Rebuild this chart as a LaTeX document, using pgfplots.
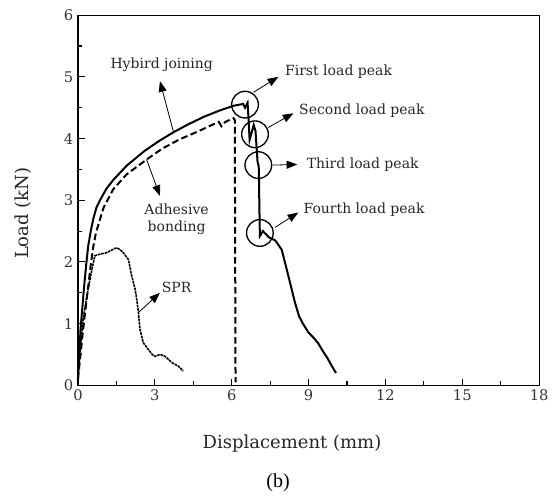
\documentclass[border=0pt]{standalone}
\usepackage{pgfplots}
\pgfplotsset{compat=1.18}
\usetikzlibrary{arrows.meta}
\usepackage{fontspec}
\setmainfont{DejaVu Serif}
\newfontfamily\timesfont{Liberation Serif}

\begin{document}
\begin{tikzpicture}[>={Triangle[length=8pt,width=6pt]}]
\begin{axis}[
  scale only axis,width=345.75pt,height=277.5pt,
  xmin=0,xmax=18,ymin=0,ymax=6,
  xtick={0,3,...,18},ytick={0,1,...,6},
  minor x tick num=1,minor y tick num=1,
  tick pos=left,tick align=inside,
  major tick length=5pt,minor tick length=3pt,
  axis line style={line width=1pt},
  every tick/.style={black,line width=0.8pt},
  /pgf/number format/assume math mode=true,
  ticklabel style={font=\fontsize{11}{13}\selectfont,text=black!80},
  xlabel={Displacement (mm)},ylabel={Load (kN)},
  label style={font=\fontsize{13.5}{15}\selectfont,text=black!85},
  xlabel style={at={(axis description cs:0.464,-0.157)},anchor=center},
  ylabel style={at={(axis description cs:-0.119,0.465)},anchor=center},
  clip=false]

% Hybird joining
\addplot[black,line width=1.5pt] coordinates {
(0,0.1) (0.05,0.5) (0.1,0.9) (0.17,1.25) (0.23,1.55) (0.32,1.95) (0.4,2.26)
(0.5,2.5) (0.6,2.7) (0.72,2.88) (0.86,3.0) (1.1,3.18) (1.38,3.33) (1.9,3.56) (2.6,3.8)
(3.2,3.97) (3.72,4.1) (4.3,4.23) (4.9,4.35) (5.5,4.45) (6.06,4.53) (6.3,4.55)
(6.45,4.56) (6.52,4.5) (6.62,4.58) (6.66,4.3) (6.70,3.98) (6.86,4.22) (6.93,4.12)
(7.01,3.62) (7.05,3.56) (7.06,3.5) (7.08,2.9) (7.1,2.42) (7.22,2.5) (7.45,2.4)
(7.7,2.35) (7.95,2.2) (8.08,1.99) (8.28,1.66) (8.47,1.34) (8.63,1.12) (8.78,1.0)
(8.99,0.86) (9.2,0.77) (9.38,0.68) (9.55,0.56) (9.71,0.46) (9.9,0.32) (10.07,0.2)};

% Adhesive bonding
\addplot[black,line width=1.5pt,dash pattern=on 5pt off 2.5pt] coordinates {
(0,0.1) (0.1,0.5) (0.2,0.9) (0.3,1.25) (0.4,1.6) (0.5,1.95) (0.6,2.25) (0.7,2.47)
(0.86,2.69) (1.0,2.88) (1.38,3.18) (1.9,3.42) (2.68,3.66) (3.3,3.84) (3.98,3.99)
(4.6,4.1) (5.28,4.23) (5.5,4.27) (5.6,4.2) (5.75,4.27) (6.07,4.33) (6.12,4.3)
(6.13,3.0) (6.15,0.05)};

% SPR
\addplot[black,line width=1.2pt,dash pattern=on 2pt off 0.6pt] coordinates {
(0,0.15) (0.1,0.6) (0.2,1.07) (0.33,1.4) (0.47,1.72) (0.58,1.95) (0.66,2.1)
(0.8,2.12) (1.12,2.15) (1.35,2.2) (1.51,2.23) (1.65,2.2) (1.77,2.15) (1.97,2.04)
(2.1,1.77) (2.23,1.56) (2.3,1.38) (2.36,1.18) (2.42,0.91) (2.55,0.69) (2.75,0.58)
(2.9,0.5) (3.0,0.47) (3.2,0.5) (3.35,0.48) (3.46,0.45) (3.66,0.37) (3.92,0.31)
(4.11,0.23)};

% peak circles
\draw[line width=1pt] (axis cs:6.52,4.55) circle[radius=10pt];
\draw[line width=1pt] (axis cs:6.91,4.07) circle[radius=10pt];
\draw[line width=1pt] (axis cs:7.04,3.57) circle[radius=10pt];
\draw[line width=1pt] (axis cs:7.10,2.47) circle[radius=10pt];

% annotations
\begin{scope}[every node/.style={font=\fontsize{10.5}{13}\selectfont,text=black!85}]
\draw[->,line width=0.6pt] (axis cs:3.72,4.12) -- (axis cs:3.2,4.93);
\node at (axis cs:3.27,5.19) {Hybird joining};
\draw[->,line width=0.6pt] (axis cs:2.68,3.66) -- (axis cs:3.2,3.07);
\node[align=center] at (axis cs:3.85,2.69) {Adhesive\\bonding};
\draw[->,line width=0.6pt] (axis cs:2.36,1.18) -- (axis cs:3.2,1.5);
\node at (axis cs:3.85,1.58) {SPR};
\draw[->,line width=0.6pt] (axis cs:6.85,4.75) -- (axis cs:7.82,5.0);
\node[anchor=west] at (axis cs:7.9,5.08) {First load peak};
\draw[->,line width=0.6pt] (axis cs:7.43,4.18) -- (axis cs:8.41,4.41);
\node[anchor=west] at (axis cs:8.45,4.46) {Second load peak};
\draw[->,line width=0.6pt] (axis cs:7.6,3.57) -- (axis cs:8.56,3.58);
\node[anchor=west] at (axis cs:8.75,3.57) {Third load peak};
\draw[->,line width=0.6pt] (axis cs:7.69,2.56) -- (axis cs:8.6,2.8);
\node[anchor=west] at (axis cs:8.62,2.84) {Fourth load peak};
\end{scope}

\node[font=\timesfont\fontsize{15}{17}\selectfont] at (rel axis cs:0.434,-0.262) {(b)};
\path (rel axis cs:-0.169,-0.30) rectangle (rel axis cs:1.043,1.041);
\end{axis}
\end{tikzpicture}
\end{document}
